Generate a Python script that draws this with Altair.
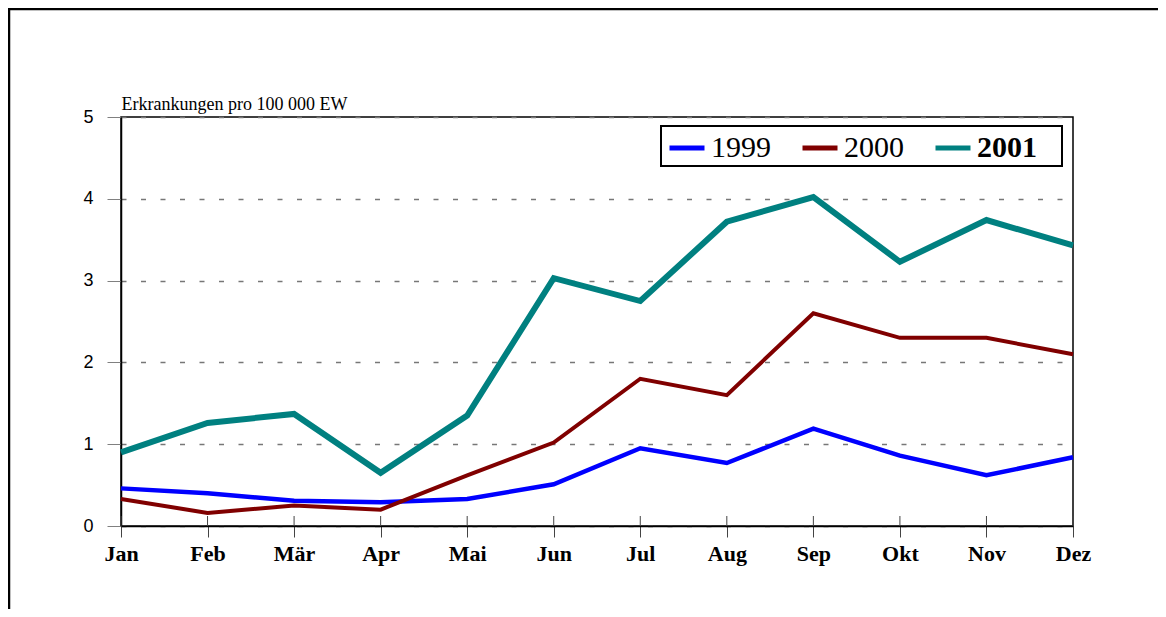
import altair as alt
import pandas as pd

months = ["Jan", "Feb", "Mär", "Apr", "Mai", "Jun", "Jul", "Aug", "Sep", "Okt", "Nov", "Dez"]
y1999 = [0.46, 0.40, 0.31, 0.29, 0.33, 0.51, 0.95, 0.77, 1.19, 0.86, 0.62, 0.84]
y2000 = [0.33, 0.16, 0.25, 0.20, 0.62, 1.02, 1.80, 1.60, 2.60, 2.30, 2.30, 2.10]
y2001 = [0.90, 1.26, 1.37, 0.65, 1.35, 3.03, 2.75, 3.72, 4.02, 3.23, 3.74, 3.43]
years = ["1999", "2000", "2001"]
colors = ["#0000FF", "#800000", "#008080"]
widths = [4.5, 4, 6]

rows = []
for yr, vals in zip(years, [y1999, y2000, y2001]):
    for m, v in zip(months, vals):
        rows.append({"Monat": m, "Wert": v, "Jahr": yr})
df = pd.DataFrame(rows)

W, H = 952, 409

xscale = alt.Scale(domain=months, type="point", padding=0)
xenc = alt.X("Monat:N", sort=months, scale=xscale,
             axis=alt.Axis(title=None, labelAngle=0, labelFont="Liberation Serif",
                           labelFontSize=22, labelFontWeight="bold", labelColor="black",
                           labelPadding=6, tickSize=11, tickColor="#444444",
                           domainColor="black", domainWidth=1.5, grid=False))
yenc = alt.Y("Wert:Q", scale=alt.Scale(domain=[0, 5], nice=False),
             axis=alt.Axis(values=[0, 1, 2, 3, 4, 5], title="Erkrankungen pro 100 000 EW",
                           titleAngle=0, titleAlign="left", titleX=0, titleY=-8,
                           titleBaseline="alphabetic", titleFont="Liberation Serif",
                           titleFontSize=18, titleFontWeight="normal", titleColor="black",
                           labelFont="Liberation Sans", labelFontSize=18, labelColor="black",
                           labelPadding=14, tickSize=14, tickColor="#808080",
                           domainColor="black", domainWidth=1.5,
                           grid=True, gridColor="#777777", gridDash=[5, 14.5], gridWidth=1.5))
cenc = alt.Color("Jahr:N", scale=alt.Scale(domain=years, range=colors),
                 legend=alt.Legend(title=None, orient="none", legendX=546, legendY=11,
                                   direction="horizontal", symbolType="stroke",
                                   symbolSize=1225, symbolStrokeWidth=5,
                                   labelFont="Liberation Serif",
                                   labelFontSize=30, labelColor="black",
                                   labelFontWeight=alt.ExprRef("datum.label == '2001' ? 'bold' : 'normal'"),
                                   labelOffset=4, columnPadding=21,
                                   padding=0, symbolOffset=0))

base = alt.Chart(df).encode(x=xenc, y=yenc, color=cenc)
line_layers = [
    base.transform_filter(alt.datum.Jahr == yr).mark_line(strokeWidth=w, strokeCap="butt", strokeJoin="miter")
    for yr, w in zip(years, widths)
]

# legend box
fdf = pd.DataFrame({"a": [0]})
legend_box = alt.Chart(fdf).mark_rect(fill="white", stroke="black", strokeWidth=2).encode(
    x=alt.value(540), x2=alt.value(941), y=alt.value(9), y2=alt.value(49))

mdf = pd.DataFrame({"Monat": months})
inner_ticks = alt.Chart(mdf).mark_rule(color="#444444", strokeWidth=1).encode(
    x=alt.X("Monat:N", sort=months, scale=xscale),
    y=alt.value(H - 10), y2=alt.value(H))

frame_left = alt.Chart(fdf).mark_rule(color="black", strokeWidth=2.5).encode(
    x=alt.value(-112), y=alt.value(-108), y2=alt.value(H + 100))
frame_top = alt.Chart(fdf).mark_rule(color="black", strokeWidth=2.5).encode(
    x=alt.value(-113), x2=alt.value(W + 100), y=alt.value(-108))

chart = alt.layer(*line_layers, legend_box, inner_ticks, frame_left, frame_top).properties(
    width=W, height=H,
    padding={"left": 113, "top": 109, "right": 85, "bottom": 83},
    autosize=alt.AutoSizeParams(type="none"),
).configure(background="white").configure_view(stroke="black", strokeWidth=1.5)

chart.save("out.html", embed_options={"renderer": "svg", "actions": False})
